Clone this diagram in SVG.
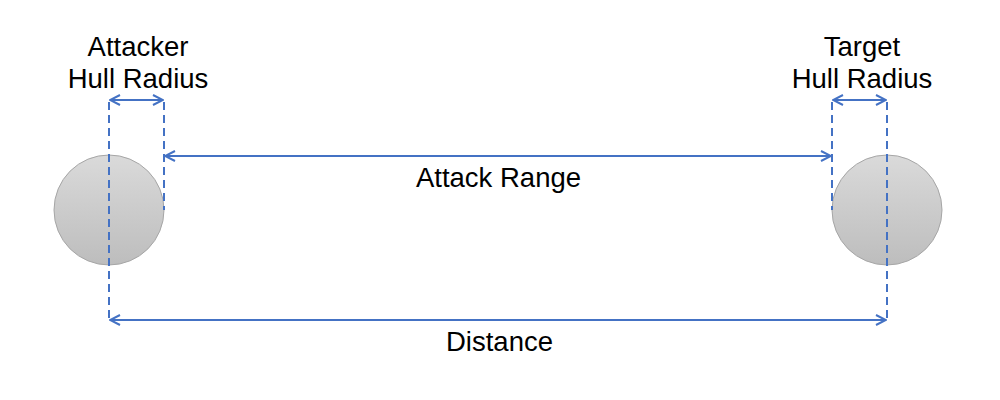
<svg xmlns="http://www.w3.org/2000/svg" width="1000" height="400" viewBox="0 0 1000 400">
<style>
.lbl{font-family:"Liberation Sans",Arial,sans-serif;font-size:27.5px;fill:#000;text-anchor:middle}
.dim{stroke:#4472c4;stroke-width:2;fill:none}
.dash{stroke:#4472c4;stroke-width:2;stroke-dasharray:8 5;fill:none}
.ball{fill:url(#g);stroke:#a6a6a6;stroke-width:1}
</style>
<defs>
<linearGradient id="g" x1="0" y1="0" x2="0" y2="1">
<stop offset="0" stop-color="#dadada"/>
<stop offset="1" stop-color="#bdbdbd"/>
</linearGradient>
<marker id="a" viewBox="0 0 12 12" refX="11" refY="6" markerWidth="12" markerHeight="12" markerUnits="userSpaceOnUse" orient="auto-start-reverse">
<path d="M1,1 L11,6 L1,11" fill="none" stroke="#4472c4" stroke-width="2"/>
</marker>
</defs>
<rect width="1000" height="400" fill="#fff"/>
<g id="attacker"><circle class="ball" cx="109" cy="210" r="55"/></g>
<g id="target"><circle class="ball" cx="887" cy="210" r="55"/></g>
<g id="connectors">
<line class="dash" x1="109" y1="102" x2="109" y2="320"/>
<line class="dash" x1="164" y1="102" x2="164" y2="210"/>
<line class="dash" x1="832" y1="102" x2="832" y2="210"/>
<line class="dash" x1="887" y1="102" x2="887" y2="320"/>
<line class="dim" x1="110" y1="100" x2="163" y2="100" marker-start="url(#a)" marker-end="url(#a)"/>
<line class="dim" x1="833" y1="100" x2="886" y2="100" marker-start="url(#a)" marker-end="url(#a)"/>
<line class="dim" x1="165" y1="156" x2="831" y2="156" marker-start="url(#a)" marker-end="url(#a)"/>
<line class="dim" x1="110" y1="320" x2="886" y2="320" marker-start="url(#a)" marker-end="url(#a)"/>
</g>
<g id="labels">
<text class="lbl" x="138" y="56">Attacker</text>
<text class="lbl" x="138" y="88">Hull Radius</text>
<text class="lbl" x="862" y="56">Target</text>
<text class="lbl" x="862" y="88">Hull Radius</text>
<text class="lbl" x="498.5" y="187">Attack Range</text>
<text class="lbl" x="499.5" y="351">Distance</text>
</g>
</svg>
